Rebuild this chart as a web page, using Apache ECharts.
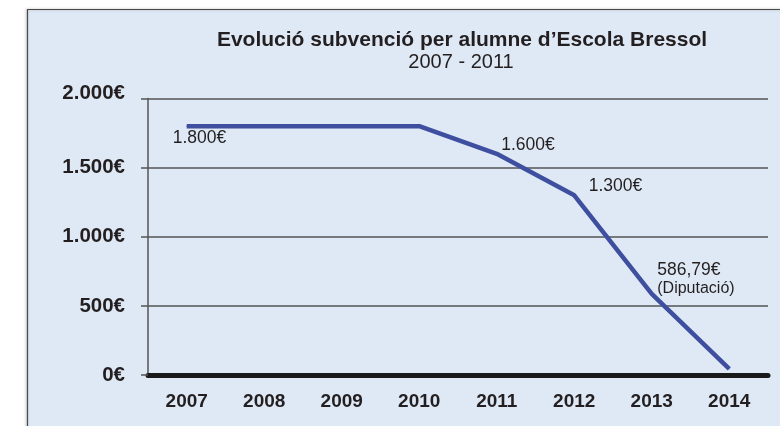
<!DOCTYPE html>
<html>
<head>
<meta charset="utf-8">
<script src="https://cdn.jsdelivr.net/npm/echarts@6/dist/echarts.min.js"></script>
<style>
html,body{margin:0;padding:0;background:#fff;}
#chart{width:780px;height:426px;}
</style>
</head>
<body>
<div id="chart"></div>
<script>
const titleText = "Evolució subvenció per alumne d’Escola Bressol";
const subtitleText = "2007 - 2011";
const categories = ["2007","2008","2009","2010","2011","2012","2013","2014"];
const values = [1800, 1800, 1800, 1800, 1600, 1300, 586.79, 45];
const pointLabels = ["1.800€", null, null, null, "1.600€", "1.300€", "586,79€", null];
const pointNotes = [null, null, null, null, null, null, "(Diputació)", null];
const yTicks = [0, 500, 1000, 1500, 2000];

const FONT = "'Liberation Sans', Arial, Helvetica, sans-serif";
const TXT = '#231f20';

function fmtEuro(v){
  return String(v).replace(/\B(?=(\d{3})+(?!\d))/g, '.') + '€';
}

const labelPlacement = [
  {position:'bottom', distance:0, offset:[-14, 3]},
  null, null, null,
  {position:'right', distance:4, offset:[0, -9]},
  {position:'right', distance:14, offset:[0, -9]},
  {position:'right', distance:5, offset:[0, -15]},
  null
];

const seriesData = values.map((v, i) => {
  const item = {value: v};
  if (pointLabels[i]) {
    const p = labelPlacement[i];
    item.label = {
      show: true,
      position: p.position,
      distance: p.distance,
      offset: p.offset,
      color: TXT,
      fontFamily: FONT,
      fontSize: 17.5,
      align: 'left',
      formatter: pointNotes[i] ? '{a|' + pointLabels[i] + '}\n{b|' + pointNotes[i] + '}' : pointLabels[i],
      rich: {
        a: {fontSize: 17.5, fontFamily: FONT, color: TXT, lineHeight: 19},
        b: {fontSize: 16, fontFamily: FONT, color: TXT, lineHeight: 18}
      }
    };
  }
  return item;
});

const chart = echarts.init(document.getElementById('chart'), null, {renderer:'canvas'});
chart.setOption({
  backgroundColor: '#ffffff',
  animation: false,
  graphic: [{
    type: 'rect', z: -10, silent: true,
    shape: {x: 27.5, y: 9.5, width: 800, height: 500},
    style: {fill: '#dfe9f5', stroke: '#4a4a4a', lineWidth: 1.2,
            shadowBlur: 3, shadowColor: 'rgba(0,0,0,0.25)', shadowOffsetX: -1}
  }],
  title: [
    {text: titleText, left: 457, top: 25, textAlign: 'center',
     textStyle: {fontFamily: FONT, fontSize: 21, fontWeight: 'bold', color: TXT}},
    {text: subtitleText, left: 456, top: 47, textAlign: 'center',
     textStyle: {fontFamily: FONT, fontSize: 20, fontWeight: 'normal', color: TXT}}
  ],
  grid: {left: 148, top: 98.5, width: 620, height: 276.5, containLabel: false},
  xAxis: {
    type: 'category',
    data: categories,
    boundaryGap: true,
    axisLine: {show: true, lineStyle: {color: '#1a1a1a', width: 5}},
    axisTick: {show: false},
    axisLabel: {color: TXT, fontFamily: FONT, fontSize: 19, fontWeight: 'bold', margin: 17},
    splitLine: {show: false}
  },
  yAxis: {
    type: 'value',
    min: yTicks[0],
    max: yTicks[yTicks.length - 1],
    interval: yTicks[1] - yTicks[0],
    axisLine: {show: true, lineStyle: {color: '#555', width: 1.5}},
    axisTick: {show: true, length: 7, lineStyle: {color: '#555', width: 1.5}},
    axisLabel: {
      color: TXT, fontFamily: FONT, fontSize: 20.5, fontWeight: 'bold', margin: 23,
      formatter: v => v === 2000 ? '{top|' + fmtEuro(v) + '}' : fmtEuro(v),
      rich: {top: {fontFamily: FONT, fontSize: 20.5, fontWeight: 'bold', color: TXT, padding: [0,0,10,0]}}
    },
    splitLine: {show: true, lineStyle: {color: '#555', width: 1.5}}
  },
  series: [{
    type: 'line',
    data: seriesData,
    showSymbol: true,
    symbol: 'circle',
    symbolSize: 1,
    itemStyle: {color: '#3e4fa0'},
    lineStyle: {color: '#3e4fa0', width: 4.5},
    label: {show: false},
    z: 5
  }]
});
</script>
</body>
</html>
